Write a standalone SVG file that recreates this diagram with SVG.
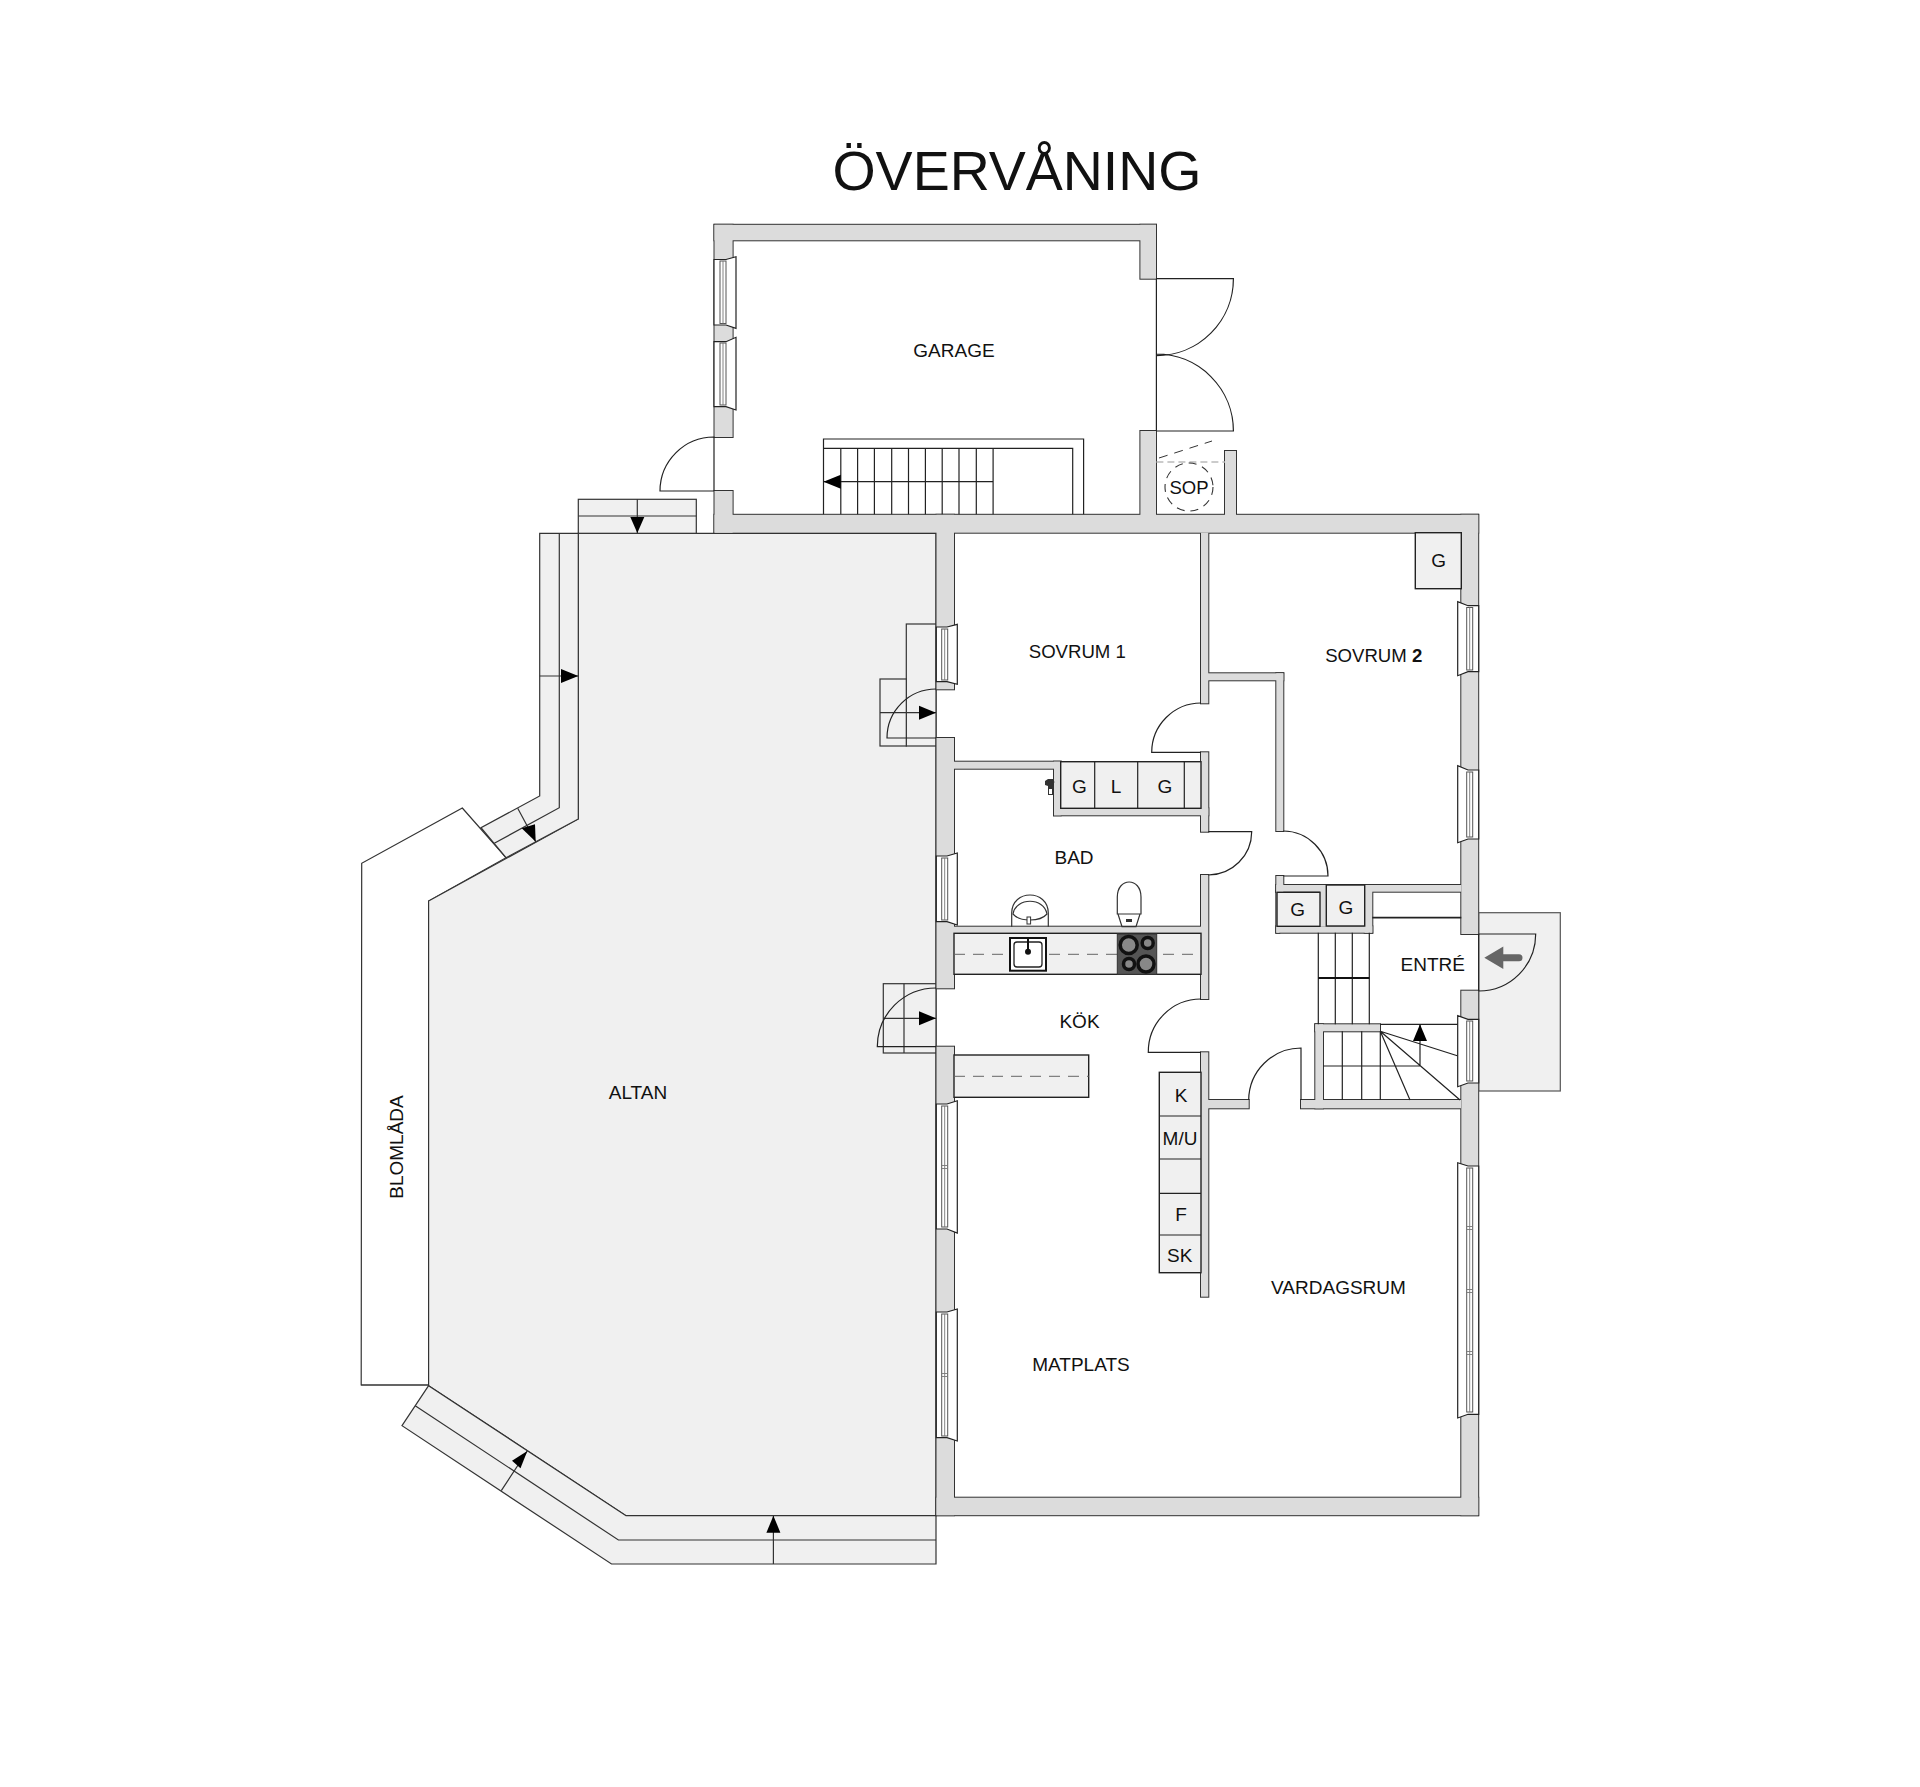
<svg xmlns="http://www.w3.org/2000/svg" xmlns:xlink="http://www.w3.org/1999/xlink" width="1920" height="1787" viewBox="0 0 1920 1787">
<style>
text{font-family:"Liberation Sans",Arial,sans-serif;font-size:19px;fill:#111;text-anchor:middle;dominant-baseline:central}
.ln{fill:none;stroke:#222;stroke-width:1.2}
.gr{fill:none;stroke:#333;stroke-width:1.2}
.lt{fill:#f0f0f0;stroke:#333;stroke-width:1.2}
.wh{fill:#fff;stroke:#333;stroke-width:1.2}
.hd{fill:#000;stroke:none}
.win{fill:#fff;stroke:#222;stroke-width:1.2}
.rail{fill:#fff;stroke:#555;stroke-width:1}
.mul{fill:none;stroke:#777;stroke-width:0.9}
.cab{fill:#f0f0f0;stroke:#222;stroke-width:1.4}
.dash{fill:none;stroke:#666;stroke-width:1;stroke-dasharray:11 8}
</style>
<defs>
<g id="w">
<rect x="714.500" y="224.800" width="441.500" height="15.500"/>
<rect x="714.500" y="224.800" width="18.100" height="212.200"/>
<rect x="714.500" y="491" width="18.100" height="41.700"/>
<rect x="1140.400" y="224.800" width="15.600" height="53.900"/>
<rect x="1140.400" y="431" width="15.600" height="100"/>
<rect x="1225" y="451" width="11" height="80"/>
<rect x="714.500" y="514.800" width="763.700" height="17.900"/>
<rect x="1461.300" y="514.800" width="16.900" height="419.200"/>
<rect x="1461.300" y="990.700" width="16.900" height="524.500"/>
<rect x="936.500" y="1497.700" width="541.700" height="17.500"/>
<rect x="936.500" y="514.800" width="17.500" height="174.500"/>
<rect x="936.500" y="738" width="17.500" height="250.300"/>
<rect x="936.500" y="1046.700" width="17.500" height="468.500"/>
<rect x="1201" y="532.700" width="7.300" height="170.600"/>
<rect x="1201" y="673.300" width="82.300" height="7"/>
<rect x="1276.300" y="673.300" width="7" height="157.700"/>
<rect x="954" y="761.700" width="106.700" height="7"/>
<rect x="1054" y="761.700" width="6.700" height="53.600"/>
<rect x="1054" y="808.300" width="154.300" height="7"/>
<rect x="1201" y="752.300" width="7.300" height="79.400"/>
<rect x="1201" y="875" width="7.300" height="124"/>
<rect x="954" y="926.700" width="247" height="6.600"/>
<rect x="1201" y="1052.300" width="7.300" height="244.400"/>
<rect x="1201" y="1100" width="47.700" height="8.300"/>
<rect x="1301" y="1100" width="160" height="8.300"/>
<rect x="1315.300" y="1024.300" width="7.700" height="84"/>
<rect x="1315.300" y="1024.300" width="64.700" height="7"/>
<rect x="1276.300" y="876" width="7" height="16"/>
<rect x="1276.300" y="885" width="185" height="6.700"/>
<rect x="1276.300" y="926.300" width="96" height="6.400"/>
<rect x="1320" y="885" width="6.300" height="41.300"/>
<rect x="1364.700" y="885" width="7.600" height="47.700"/>
<rect x="1276.300" y="891" width="3" height="41.700"/>
</g>
</defs>
<rect width="1920" height="1787" fill="#fff"/>
<text id="title" x="1017" y="171" style="font-size:55.500px">ÖVERVÅNING</text>

<g id="altan">
<polygon class="wh" points="462.3,808 506,857.7 428.6,901 428.6,1385 361.2,1385 361.7,863.3"/>
<polygon class="lt" points="578.3,533.3 936,533.3 936,1515.7 626,1515.7 428.6,1385.7 428.6,901 578.3,819"/>
<rect class="lt" x="578.3" y="499.3" width="118" height="34"/>
<path class="gr" d="M578.3 516H696.3M637.3 499.3V533"/>
<polygon class="hd" points="637.3,533 630.3,517 644.3,517"/>
<polygon class="lt" points="539.7,533.3 578.3,533.3 578.3,819 506,857.7 481,827.7 539.7,796"/>
<path class="gr" d="M559.3 533.3V807.7L494.3 843.3M539.7 676H578.3M517.7 808.3L535.7 841.7"/>
<polygon class="hd" points="578.3,676 561,669 561,683"/>
<polygon class="hd" points="535.7,841.7 521.7,828.3 535,824.3"/>
<polygon class="lt" points="428.6,1385.7 626,1515.7 936,1515.7 936,1564 611.5,1564 402,1425.7"/>
<path class="gr" d="M415.2 1405.7L618.4 1540H936M773.4 1564V1515.7M501.3 1490.7L527.3 1451"/>
<polygon class="hd" points="773.4,1515.7 766.4,1532.7 780.4,1532.7"/>
<polygon class="hd" points="527.3,1451 512,1460.7 520.5,1468.3"/>
<line class="gr" x1="361" y1="1385" x2="428.6" y2="1385"/>
<rect class="lt" x="906.3" y="624" width="29.7" height="122"/>
<rect class="lt" x="880" y="679" width="26.3" height="67"/>
<path class="gr" d="M880 712.7H936"/>
<polygon class="hd" points="936,712.7 919,705.7 919,719.7"/>
<rect class="lt" x="883.3" y="983.7" width="52.7" height="69.3"/>
<path class="gr" d="M904 983.7V1053M883.3 1018.3H936"/>
<polygon class="hd" points="936,1018.3 919,1011.3 919,1025.3"/>
<rect id="porch" x="1478.7" y="912.7" width="81.6" height="178.3" fill="#f0f0f0" stroke="#555" stroke-width="1.2"/>
</g>

<g id="walls">
<use href="#w" fill="#333" stroke="#333" stroke-width="2"/>
<use href="#w" fill="#dcdcdc" stroke="none"/>
</g>

<g id="windows">
<path class="win" d="M714 259.5H726L736 256.7V328.3L726 325H714Z"/><rect class="rail" x="720" y="261" width="6" height="62.5"/>
<path class="win" d="M714 341.7H726L736 337.3V410L726 406.7H714Z"/><rect class="rail" x="720" y="343" width="6" height="62"/>
<path class="win" d="M936.3 627H947L957.3 624.3V684.3L947 681.7H936.3Z"/><rect class="rail" x="941.7" y="629" width="6" height="51"/>
<path class="win" d="M936.3 856H947L957.3 853V925L947 921.7H936.3Z"/><rect class="rail" x="941.7" y="858" width="6" height="62"/>
<path class="win" d="M936.3 1104H947L957.3 1100.7V1233L947 1229H936.3Z"/><rect class="rail" x="941.7" y="1106" width="6" height="121"/>
<path class="win" d="M936.3 1312H947L957.3 1309V1441L947 1437.7H936.3Z"/><rect class="rail" x="941.7" y="1314" width="6" height="122"/>
<path class="mul" d="M723 261V323.5M723 343V405M944.7 629V680M944.7 858V920M944.7 1106V1227M944.7 1314V1436M941.7 1165.5H947.7M941.7 1168.500H947.7M941.7 1373.500H947.7M941.7 1376.500H947.7"/>
<path class="win" d="M1478.7 605.7H1468L1457.7 601.7V675.7L1468 671.7H1478.7Z"/><rect class="rail" x="1466.7" y="607.5" width="6" height="62.5"/>
<path class="win" d="M1478.7 770H1468L1457.7 765.7V842.7L1468 839H1478.7Z"/><rect class="rail" x="1466.7" y="772" width="6" height="65"/>
<path class="win" d="M1478.7 1019.3H1468L1457.7 1015.7V1086.7L1468 1083H1478.7Z"/><rect class="rail" x="1466.7" y="1021" width="6" height="60"/>
<path class="win" d="M1478.7 1166H1468L1457.7 1162.7V1418L1468 1414.3H1478.7Z"/><rect class="rail" x="1466.7" y="1168" width="6" height="244"/>
<path class="mul" d="M1469.7 607.5V670M1469.7 772V837M1469.7 1021V1081M1469.7 1168V1412M1466.7 1226.500H1472.7M1466.7 1229.500H1472.7M1466.7 1289.500H1472.7M1466.7 1292.500H1472.7M1466.7 1351.500H1472.7M1466.7 1354.500H1472.7"/>
</g>

<g id="doors">
<path class="ln" d="M714 491H660A54 54 0 0 1 714 437V491"/>
<path class="ln" d="M1156.4 278.7H1233.4A77 77 0 0 1 1156.4 355.7M1156.4 431H1233.4A77 77 0 0 0 1156.4 354M1156.4 278.7V431"/>
<path class="ln" d="M1201 752.3H1151.7A49.5 49.5 0 0 1 1201 703"/>
<path class="ln" d="M1283.3 876H1328A45 45 0 0 0 1283.3 831"/>
<path class="ln" d="M1208.3 831.7H1251.7A43.5 43.5 0 0 1 1208.3 875"/>
<path class="ln" d="M1201 1052.3H1148.3A53 53 0 0 1 1201 999"/>
<path class="ln" d="M1301 1100V1048A52.5 52.5 0 0 0 1248.7 1100"/>
<path class="ln" d="M1478.7 934H1535.7A57 57 0 0 1 1478.7 991M1478.7 934V991"/>
<path class="ln" d="M936 738H887A49 49 0 0 1 936 689"/>
<path class="ln" d="M936 1046.7H877.3A58.7 58.7 0 0 1 936 988"/>
</g>

<g id="stairs">
<path class="ln" d="M823.5 514.3V439H1083.6V514.3M823.5 448.3H1072.7V514.3M840.8 448.3V514.3M857.6 448.3V514.3M874.4 448.3V514.3M891.7 448.3V514.3M908.5 448.3V514.3M925.4 448.3V514.3M942.2 448.3V514.3M959 448.3V514.3M976.3 448.3V514.3M993.1 448.3V514.3M993.1 481.7H823.5"/>
<polygon class="hd" points="823.5,481.7 840.8,474.7 840.8,488.7"/>
<path class="ln" d="M1318.3 932.7V1024.3M1335.3 932.7V1024.3M1352.3 932.7V1024.3M1369.3 932.7V1024.3"/>
<path fill="none" stroke="#111" stroke-width="2.2" d="M1318.3 978H1369.3"/>
<path class="ln" d="M1380 1024.3H1457.7M1342.3 1031.3V1100M1361.7 1031.3V1100M1380.3 1031.3V1100M1323 1066H1420M1380.3 1031.3L1457.3 1055.7M1380.3 1031.3L1460 1100M1380.3 1031.3L1410 1100M1420 1066V1024.3"/>
<polygon class="hd" points="1420,1024.3 1413,1041 1427,1041"/>
<path fill="none" stroke="#222" stroke-width="1.8" d="M1372.3 917.7H1461.3"/>
</g>

<g id="cabinets">
<rect class="cab" x="1060.7" y="761.7" width="140.3" height="46.6"/>
<path class="ln" d="M1094.7 761.7V808.3M1137.7 761.7V808.3M1184.3 761.7V808.3"/>
<rect class="cab" x="1415.3" y="532.7" width="46" height="56"/>
<rect class="cab" x="1277" y="892.3" width="43" height="34"/>
<rect class="cab" x="1326.3" y="885" width="38.4" height="41"/>
<rect class="cab" x="1159.3" y="1072.3" width="41.7" height="200.4"/>
<path class="ln" d="M1159.3 1116H1201M1159.3 1159H1201M1159.3 1193.3H1201M1159.3 1235H1201"/>
<rect class="cab" x="954" y="933.3" width="247" height="41"/>
<line class="dash" x1="954" y1="954.3" x2="1201" y2="954.3"/>
<rect class="cab" x="954" y="1055" width="134.7" height="42.3"/>
<line class="dash" x1="954" y1="1076.3" x2="1088.7" y2="1076.3"/>
</g>

<g id="sink-kitchen">
<rect x="1010" y="938" width="36" height="32.7" fill="#fff" stroke="#111" stroke-width="2"/>
<rect x="1014" y="942" width="28" height="25" rx="3" fill="#fff" stroke="#222" stroke-width="1.3"/>
<path fill="none" stroke="#111" stroke-width="2" d="M1028 938V951"/>
<circle cx="1028" cy="951.7" r="3" fill="#111"/>
</g>
<g id="stove">
<rect x="1117.3" y="934" width="39.4" height="40.3" fill="#555" stroke="#333" stroke-width="1"/>
<g fill="#888" stroke="#111" stroke-width="3.5">
<circle cx="1128.7" cy="945" r="8.500"/>
<circle cx="1147.7" cy="943" r="5.500"/>
<circle cx="1129" cy="964" r="5.500"/>
<circle cx="1146" cy="964" r="8"/>
</g>
</g>
<g id="bath">
<path class="gr" d="M1011.7 926.7V913C1012 889 1048 889 1048.3 913V926.7"/>
<path class="gr" d="M1013 914C1016 897 1044 897 1047 914C1040 922 1020 922 1013 914Z"/>
<rect x="1027" y="917" width="3.6" height="7" fill="#fff" stroke="#333" stroke-width="1"/>
<path class="gr" d="M1117.3 914V897C1117.3 877 1141 877 1141 897V914Z"/>
<path class="gr" d="M1118 914L1122 926.7H1136L1140 914"/>
<rect x="1126" y="919" width="6" height="3" fill="#333"/>
<path fill="#333" d="M1048 779H1053L1054.500 782L1053 785V795H1048V786L1045 785V781Z"/>
<rect x="1049" y="789" width="3" height="5" fill="#fff"/>
</g>

<g id="sop">
<path fill="none" stroke="#bbb" stroke-width="1.3" stroke-dasharray="7 4" d="M1156.4 462H1225"/>
<path fill="none" stroke="#333" stroke-width="1" stroke-dasharray="9 7" d="M1159 458L1212 441"/>
<circle cx="1189" cy="487" r="24" fill="none" stroke="#333" stroke-width="1.1" stroke-dasharray="8 6"/>
</g>

<path id="entry-arrow" fill="#666" d="M1484.3 957.700L1503.300 946.500V954.200H1519A3.500 3.500 0 0 1 1519 961.200H1503.300V969Z"/>

<g id="labels">
<text x="954" y="350">GARAGE</text>
<text x="1189" y="487" style="font-size:18.500px">SOP</text>
<text x="1077.300" y="651" style="font-size:18.600px">SOVRUM 1</text>
<text x="1373.700" y="655" style="font-size:18.600px">SOVRUM <tspan font-weight="bold">2</tspan></text>
<text x="1074" y="857">BAD</text>
<text x="1079.500" y="1021.700">KÖK</text>
<text x="1432.700" y="964">ENTRÉ</text>
<text x="638" y="1092">ALTAN</text>
<text x="1338.500" y="1287.500">VARDAGSRUM</text>
<text x="1081" y="1364">MATPLATS</text>
<text transform="translate(396 1147) rotate(-90)">BLOMLÅDA</text>
<text x="1079.300" y="786">G</text>
<text x="1116" y="786">L</text>
<text x="1165" y="786">G</text>
<text x="1438.700" y="560">G</text>
<text x="1297.700" y="909">G</text>
<text x="1346" y="907">G</text>
<text x="1181" y="1095">K</text>
<text x="1180" y="1138">M/U</text>
<text x="1181" y="1214">F</text>
<text x="1179.700" y="1255">SK</text>
</g>
</svg>
